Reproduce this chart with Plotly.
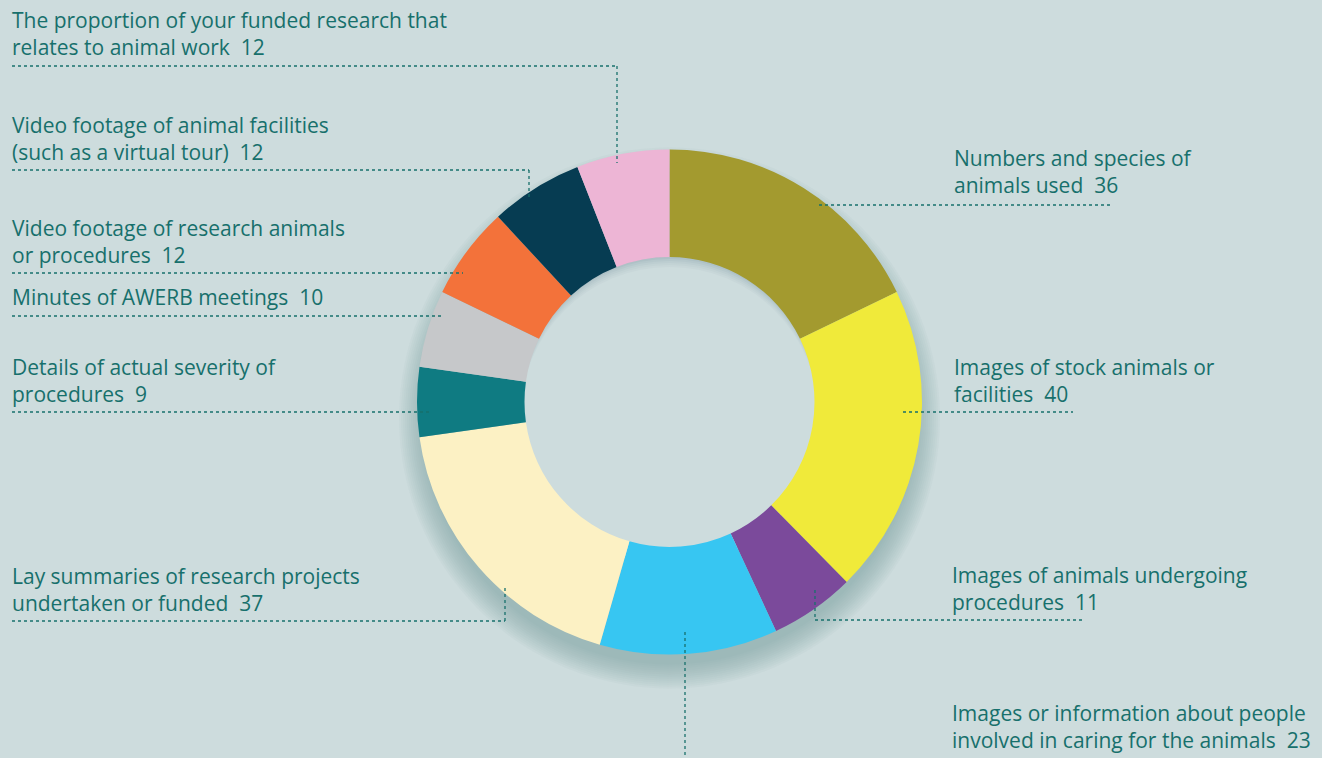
import plotly.graph_objects as go

# ---- data ----
categories = [
    "Numbers and species of<br>animals used",
    "Images of stock animals or<br>facilities",
    "Images of animals undergoing<br>procedures",
    "Images or information about people<br>involved in caring for the animals",
    "Lay summaries of research projects<br>undertaken or funded",
    "Details of actual severity of<br>procedures",
    "Minutes of AWERB meetings",
    "Video footage of research animals<br>or procedures",
    "Video footage of animal facilities<br>(such as a virtual tour)",
    "The proportion of your funded research that<br>relates to animal work",
]
values = [36, 40, 11, 23, 37, 9, 10, 12, 12, 12]
colors = ["#a39a2f", "#f0ea3a", "#7b4a9b", "#37c6f2", "#fcf1c4",
          "#0f7b82", "#c6c8ca", "#f3723a", "#063c52", "#edb5d5"]

W, H = 1322, 758
BG = "#cddcdd"
TXT = "#17706c"

def px(x):
    return x / W

def py(y):
    return 1 - y / H

cx, cy, R, r_in = 669.5, 402, 252.5, 145

fig = go.Figure()
fig.add_trace(go.Pie(
    values=values, labels=[c.replace("<br>", " ") for c in categories],
    marker=dict(colors=colors, line=dict(width=0)),
    hole=r_in / R, sort=False, direction="clockwise", rotation=0,
    textinfo="none", hoverinfo="none", showlegend=False,
    domain=dict(x=[px(cx - R), px(cx + R)], y=[py(cy + R), py(cy - R)]),
))

def circ(x, y, rr, col, op=1.0, layer="below"):
    return dict(type="circle", xref="paper", yref="paper", layer=layer,
                x0=px(x - rr), x1=px(x + rr), y0=py(y + rr), y1=py(y - rr),
                fillcolor=col, opacity=op, line=dict(width=0))

shapes = []
# outer drop shadow (beneath the ring)
for i in range(13):
    shapes.append(circ(cx, cy + 16, R - 6 + i * 2.0, "#7a959e", 0.05))
# inner hole shadow (visible only through the hole)
inner = [("#9db3ba", 0), ("#a5bac0", 2), ("#aec1c6", 4), ("#b6c8cc", 6),
         ("#bdced1", 8), ("#c3d3d5", 10), ("#c8d7d9", 12), (BG, 14)]
for col, d in inner:
    shapes.append(circ(cx, cy + d, r_in + 4, col, 1.0))

# leader lines (pixel coordinates)
leaders = [
    [(12, 66), (617, 66), (617, 163)],
    [(12, 170), (529, 170), (529, 200)],
    [(12, 273), (463, 273)],
    [(12, 316), (443, 316)],
    [(12, 412), (432, 412)],
    [(12, 621), (505, 621), (505, 585)],
    [(685, 632), (685, 758)],
    [(815, 590), (815, 620), (1085, 620)],
    [(903, 412), (1073, 412)],
    [(819, 205), (1113, 205)],
]
for pts in leaders:
    for (x0, y0), (x1, y1) in zip(pts[:-1], pts[1:]):
        shapes.append(dict(type="line", xref="paper", yref="paper", layer="above",
                           x0=px(x0), y0=py(y0), x1=px(x1), y1=py(y1),
                           line=dict(color=TXT, width=1.3, dash="dot")))

# label anchor positions (left x, vertical centre)
label_pos = [
    (952, 171), (952, 380), (950, 588), (950, 726),
    (10, 589), (10, 380), (10, 297), (10, 242), (10, 138), (10, 33),
]
annotations = []
for cat, v, (lx, ly) in zip(categories, values, label_pos):
    annotations.append(dict(
        x=px(lx), y=py(ly), xref="paper", yref="paper", xanchor="left", yanchor="middle",
        text=f"{cat}\u00a0\u00a0{v}", showarrow=False, align="left",
        font=dict(family="Open Sans", size=21, color=TXT),
    ))

fig.update_layout(
    width=W, height=H, margin=dict(l=0, r=0, t=0, b=0),
    paper_bgcolor=BG, plot_bgcolor=BG,
    shapes=shapes, annotations=annotations,
)
fig.write_html("out.html")
